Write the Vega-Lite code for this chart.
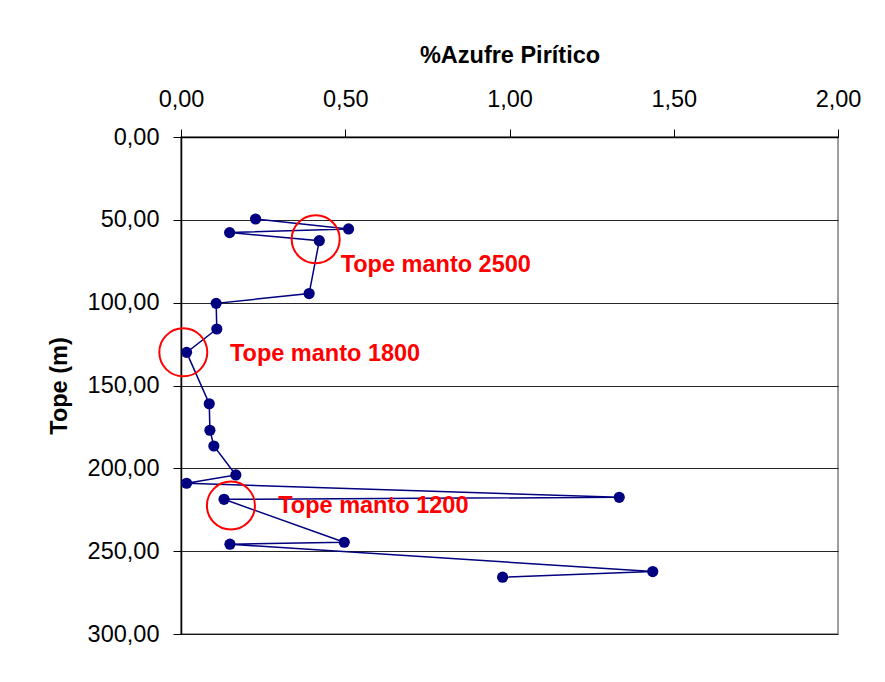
{
  "$schema": "https://vega.github.io/schema/vega-lite/v6.json",
  "width": 657,
  "height": 497,
  "autosize": "none",
  "padding": {"left": 181, "top": 137, "right": 47, "bottom": 48},
  "background": "white",
  "config": {
    "locale": {"number": {"decimal": ",", "thousands": ".", "grouping": [3], "currency": ["", ""]}},
    "font": "Liberation Sans",
    "view": {"stroke": "#808080", "strokeWidth": 1.5}
  },
  "datasets": {
    "pts": [
      {"i": 1, "s": 0.227, "d": 49.5},
      {"i": 2, "s": 0.51, "d": 55.5},
      {"i": 3, "s": 0.148, "d": 57.7},
      {"i": 4, "s": 0.421, "d": 62.6},
      {"i": 5, "s": 0.39, "d": 94.5},
      {"i": 6, "s": 0.107, "d": 100.4},
      {"i": 7, "s": 0.109, "d": 115.9},
      {"i": 8, "s": 0.017, "d": 130.0},
      {"i": 9, "s": 0.086, "d": 161.0},
      {"i": 10, "s": 0.088, "d": 177.0},
      {"i": 11, "s": 0.10, "d": 186.5},
      {"i": 12, "s": 0.167, "d": 204.0},
      {"i": 13, "s": 0.017, "d": 209.0},
      {"i": 14, "s": 1.334, "d": 217.5},
      {"i": 15, "s": 0.131, "d": 218.7},
      {"i": 16, "s": 0.497, "d": 244.6},
      {"i": 17, "s": 0.149, "d": 245.8},
      {"i": 18, "s": 1.436, "d": 262.3},
      {"i": 19, "s": 0.979, "d": 265.7}
    ],
    "notes": [
      {"cs": 0.41, "cd": 61.7, "ts": 0.486, "td": 81.3, "label": "Tope manto 2500"},
      {"cs": 0.007, "cd": 130.0, "ts": 0.149, "td": 135.2, "label": "Tope manto 1800"},
      {"cs": 0.152, "cd": 222.5, "ts": 0.296, "td": 227.2, "label": "Tope manto 1200"}
    ]
  },
  "layer": [
    {
      "data": {"name": "pts"},
      "mark": {"type": "line", "color": "#000080", "strokeWidth": 1.5},
      "encoding": {
        "x": {
          "field": "s", "type": "quantitative",
          "scale": {"domain": [0, 2], "nice": false, "zero": false},
          "axis": {
            "orient": "top", "values": [0, 0.5, 1, 1.5, 2], "format": ".2f",
            "grid": false, "domainColor": "#000000", "domainWidth": 1.5,
            "tickColor": "#000000", "tickSize": 8, "tickWidth": 1,
            "labelFlush": false, "labelOverlap": false,
            "labelFontSize": 23.5, "labelColor": "#000000", "labelPadding": 18,
            "title": "%Azufre Pirítico", "titleFontSize": 23.5, "titleFontWeight": "bold",
            "titleColor": "#000000", "titlePadding": 20
          }
        },
        "y": {
          "field": "d", "type": "quantitative",
          "scale": {"domain": [0, 300], "reverse": true, "nice": false, "zero": false},
          "axis": {
            "values": [0, 50, 100, 150, 200, 250, 300], "format": ".2f",
            "grid": true, "gridColor": "#000000", "gridWidth": 1, "gridOpacity": 0.85,
            "domainColor": "#000000", "domainWidth": 1.5,
            "tickColor": "#000000", "tickSize": 8, "tickWidth": 1,
            "labelFlush": false, "labelOverlap": false,
            "labelFontSize": 23.5, "labelColor": "#000000", "labelPadding": 14,
            "title": "Tope (m)", "titleFontSize": 23.5, "titleFontWeight": "bold",
            "titleColor": "#000000", "titlePadding": 16
          }
        },
        "order": {"field": "i", "type": "quantitative"}
      }
    },
    {
      "data": {"name": "pts"},
      "mark": {"type": "point", "filled": true, "color": "#000080", "size": 125, "opacity": 1},
      "encoding": {
        "x": {"field": "s", "type": "quantitative"},
        "y": {"field": "d", "type": "quantitative"}
      }
    },
    {
      "data": {"name": "notes"},
      "mark": {"type": "point", "filled": false, "shape": "circle", "stroke": "#ff0000", "strokeWidth": 2, "size": 2304, "opacity": 1},
      "encoding": {
        "x": {"field": "cs", "type": "quantitative"},
        "y": {"field": "cd", "type": "quantitative"}
      }
    },
    {
      "data": {"name": "notes"},
      "mark": {"type": "text", "color": "#ff0000", "fontSize": 23.5, "fontWeight": "bold", "align": "left", "baseline": "alphabetic"},
      "encoding": {
        "x": {"field": "ts", "type": "quantitative"},
        "y": {"field": "td", "type": "quantitative"},
        "text": {"field": "label"}
      }
    }
  ]
}
